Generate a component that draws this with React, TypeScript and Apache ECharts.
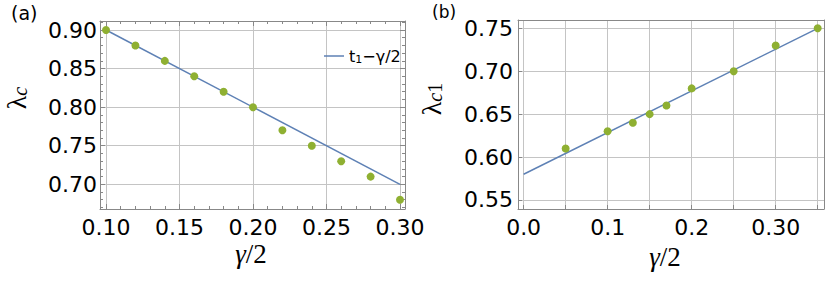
import React, { useEffect, useRef } from "react";
import * as echarts from "echarts";

// ---- data: panel (a) ----
const gammaA = [0.1, 0.12, 0.14, 0.16, 0.18, 0.2, 0.22, 0.24, 0.26, 0.28, 0.3];
const lambdaA = [0.9, 0.88, 0.86, 0.84, 0.82, 0.8, 0.77, 0.75, 0.73, 0.71, 0.68];
const fitA = [
  [0.1, 0.9],
  [0.3, 0.7],
];
const xTicksA = [0.1, 0.15, 0.2, 0.25, 0.3];
const yTicksA = [0.7, 0.75, 0.8, 0.85, 0.9];
const xMinorA = [0.11, 0.12, 0.13, 0.14, 0.16, 0.17, 0.18, 0.19, 0.21, 0.22, 0.23, 0.24, 0.26, 0.27, 0.28, 0.29];
const yMinorA = [0.67, 0.68, 0.69, 0.71, 0.72, 0.73, 0.74, 0.76, 0.77, 0.78, 0.79, 0.81, 0.82, 0.83, 0.84, 0.86, 0.87, 0.88, 0.89, 0.91];

// ---- data: panel (b) ----
const gammaB = [0.05, 0.1, 0.13, 0.15, 0.17, 0.2, 0.25, 0.3, 0.35];
const lambdaB = [0.61, 0.63, 0.64, 0.65, 0.66, 0.68, 0.7, 0.73, 0.75];
const fitB = [
  [0, 0.58],
  [0.35, 0.75],
];
const xGridB = [0, 0.05, 0.1, 0.15, 0.2, 0.25, 0.3, 0.35];
const xLabelValuesB = [0, 0.1, 0.2, 0.3];
const xTickLabelsB = ["0.0", "0.1", "0.2", "0.30"];
const yTicksB = [0.55, 0.6, 0.65, 0.7, 0.75];

const FRAME = "#888888";
const GRIDC = "#c4c4c4";
const LINE = "#5E81B5";
const DOT = "#8FB032";
const TICKFONT = "DejaVu Sans";
const SERIF = "Liberation Serif";

function frameAxis(opts: any) {
  const { gridIndex, position, min, max, ticks, len, line, labels, labelFmt, split, labelMargin } = opts;
  return {
    type: "value",
    gridIndex,
    position,
    min,
    max,
    axisLine: { show: !!line, onZero: false, lineStyle: { color: FRAME, width: 1 } },
    axisTick: ticks
      ? { show: true, inside: true, length: len, customValues: ticks, lineStyle: { color: FRAME, width: 1 } }
      : { show: false },
    axisLabel: labels
      ? {
          show: true,
          customValues: labels,
          formatter: labelFmt,
          color: "#000",
          fontFamily: TICKFONT,
          fontSize: 22,
          margin: labelMargin,
        }
      : { show: false },
    splitLine: split ? { show: true, lineStyle: { color: GRIDC, width: 1 } } : { show: false },
    minorTick: { show: false },
  };
}

function yName(sub: string, x: number, y: number) {
  return {
    type: "text",
    x,
    y,
    rotation: Math.PI / 2,
    style: {
      text: sub,
      align: "center",
      verticalAlign: "middle",
      rich: {
        l: { fontFamily: SERIF, fontSize: 28, fill: "#000", verticalAlign: "bottom" },
        s: { fontFamily: SERIF, fontSize: 20, fontStyle: "italic", fill: "#000", verticalAlign: "bottom" },
        n: { fontFamily: SERIF, fontSize: 20, fill: "#000", verticalAlign: "bottom" },
      },
    },
  };
}

function xName(x: number, y: number) {
  return {
    type: "text",
    x,
    y,
    style: {
      text: "{g|γ}{n|/2}",
      align: "center",
      verticalAlign: "middle",
      rich: {
        g: { fontFamily: SERIF, fontSize: 27, fontStyle: "italic", fill: "#000" },
        n: { fontFamily: SERIF, fontSize: 27, fill: "#000" },
      },
    },
  };
}

export default function App() {
  const ref = useRef<HTMLDivElement>(null);
  useEffect(() => {
    if (!ref.current) return;
    const chart = echarts.init(ref.current, null, { renderer: "svg" });
    const axA = { xmin: 0.0959, xmax: 0.3034, ymin: 0.668, ymax: 0.9117 };
    const axB = { xmin: -0.0067, xmax: 0.3575, ymin: 0.5395, ymax: 0.7597 };
    const f2 = (v: number) => v.toFixed(2);
    const fB = (v: number) => {
      const i = xLabelValuesB.findIndex((t) => Math.abs(t - v) < 1e-6);
      return i >= 0 ? xTickLabelsB[i] : "";
    };
    const option: any = {
      animation: false,
      backgroundColor: "#fff",
      grid: [
        { left: 100, top: 21, width: 305, height: 188 },
        { left: 518, top: 20, width: 306, height: 189 },
      ],
      xAxis: [
        frameAxis({ gridIndex: 0, position: "bottom", min: axA.xmin, max: axA.xmax, ticks: xTicksA, len: 5, line: true, labels: xTicksA, labelFmt: f2, split: true, labelMargin: 7 }),
        frameAxis({ gridIndex: 0, position: "top", min: axA.xmin, max: axA.xmax, ticks: xTicksA, len: 5, line: true }),
        frameAxis({ gridIndex: 0, position: "bottom", min: axA.xmin, max: axA.xmax, ticks: xMinorA, len: 3 }),
        frameAxis({ gridIndex: 0, position: "top", min: axA.xmin, max: axA.xmax, ticks: xMinorA, len: 3 }),
        frameAxis({ gridIndex: 1, position: "bottom", min: axB.xmin, max: axB.xmax, ticks: xGridB, len: 4, line: true, labels: xLabelValuesB, labelFmt: fB, split: true, labelMargin: 7 }),
        frameAxis({ gridIndex: 1, position: "top", min: axB.xmin, max: axB.xmax, line: true }),
      ],
      yAxis: [
        frameAxis({ gridIndex: 0, position: "left", min: axA.ymin, max: axA.ymax, ticks: yTicksA, len: 5, line: true, labels: yTicksA, labelFmt: f2, split: true, labelMargin: 3 }),
        frameAxis({ gridIndex: 0, position: "right", min: axA.ymin, max: axA.ymax, ticks: yTicksA, len: 5, line: true }),
        frameAxis({ gridIndex: 0, position: "left", min: axA.ymin, max: axA.ymax, ticks: yMinorA, len: 3 }),
        frameAxis({ gridIndex: 0, position: "right", min: axA.ymin, max: axA.ymax, ticks: yMinorA, len: 3 }),
        frameAxis({ gridIndex: 1, position: "left", min: axB.ymin, max: axB.ymax, ticks: yTicksB, len: 4, line: true, labels: yTicksB, labelFmt: f2, split: true, labelMargin: 5 }),
        frameAxis({ gridIndex: 1, position: "right", min: axB.ymin, max: axB.ymax, line: true }),
      ],
      legend: {
        data: ["fitA"],
        left: 319,
        top: 43,
        icon: "rect",
        itemWidth: 20,
        itemHeight: 1.5,
        itemGap: 4,
        formatter: () => "{a|t}{s|1}{a|−γ/2}",
        textStyle: {
          rich: {
            a: { fontFamily: TICKFONT, fontSize: 16, color: "#000" },
            s: { fontFamily: TICKFONT, fontSize: 11, color: "#000", verticalAlign: "bottom", padding: [6, 0, 0, 0] },
          },
        },
      },
      series: [
        {
          name: "fitA",
          type: "line",
          xAxisIndex: 0,
          yAxisIndex: 0,
          data: fitA,
          symbol: "none",
          lineStyle: { color: LINE, width: 1.5 },
          itemStyle: { color: LINE },
          z: 3,
        },
        {
          name: "dataA",
          type: "scatter",
          xAxisIndex: 0,
          yAxisIndex: 0,
          data: gammaA.map((g, i) => [g, lambdaA[i]]),
          symbolSize: 8,
          itemStyle: { color: DOT, opacity: 1 },
          z: 4,
        },
        {
          name: "fitB",
          type: "line",
          xAxisIndex: 4,
          yAxisIndex: 4,
          data: fitB,
          symbol: "none",
          lineStyle: { color: LINE, width: 1.5 },
          z: 3,
        },
        {
          name: "dataB",
          type: "scatter",
          xAxisIndex: 4,
          yAxisIndex: 4,
          data: gammaB.map((g, i) => [g, lambdaB[i]]),
          symbolSize: 8,
          itemStyle: { color: DOT, opacity: 1 },
          z: 4,
        },
      ],
      graphic: [
        { type: "text", left: 11, top: 3, style: { text: "(a)", fontFamily: TICKFONT, fontSize: 19, fill: "#000" } },
        { type: "text", left: 432, top: 3, style: { text: "(b)", fontFamily: TICKFONT, fontSize: 17, fill: "#000" } },
        yName("{l|λ}{s|c}", 16, 98),
        yName("{l|λ}{s|c}{n|1}", 431, 99),
        xName(251, 254),
        xName(665, 257),
      ],
    };
    chart.setOption(option);
    return () => chart.dispose();
  }, []);
  return <div ref={ref} style={{ position: "fixed", left: 0, top: 0, width: 831, height: 282 }} />;
}
